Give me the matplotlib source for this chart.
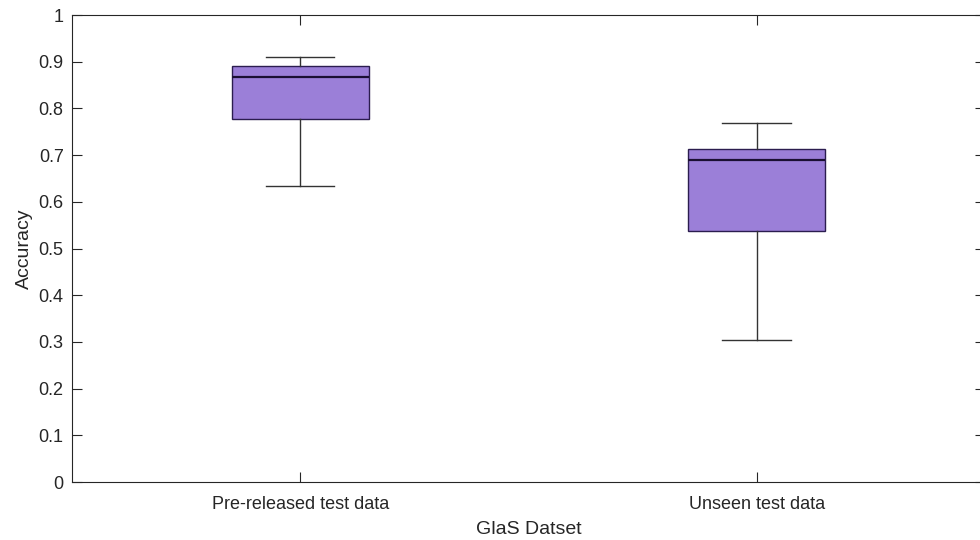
import matplotlib
matplotlib.use("Agg")
import matplotlib.pyplot as plt

plt.rcParams['font.family'] = ['Liberation Sans', 'DejaVu Sans']

# box statistics for each split of the dataset
groups = ['Pre-released test data', 'Unseen test data']
whisker_low = [0.634, 0.304]
q1 = [0.777, 0.537]
median = [0.867, 0.690]
q3 = [0.891, 0.713]
whisker_high = [0.910, 0.769]

stats = []
for i, name in enumerate(groups):
    stats.append({
        'label': name,
        'whislo': whisker_low[i],
        'q1': q1[i],
        'med': median[i],
        'q3': q3[i],
        'whishi': whisker_high[i],
        'fliers': [],
    })

fig = plt.figure(figsize=(9.8, 5.4), dpi=100)
ax = fig.add_axes([0.0735, 0.1074, 0.9315, 0.8646])

axcol = '#262626'
ax.bxp(stats, positions=[1, 2], widths=0.3, patch_artist=True, showfliers=False,
       boxprops=dict(facecolor='#9b7fd8', edgecolor='#2b1d4f', linewidth=1.0),
       medianprops=dict(color='#1a0f33', linewidth=1.6),
       whiskerprops=dict(color='#333333', linewidth=1.0),
       capprops=dict(color='#333333', linewidth=1.0),
       capwidths=0.15)

ax.set_xlim(0.5, 2.5)
ax.set_ylim(0, 1)
ax.set_yticks([0, 0.1, 0.2, 0.3, 0.4, 0.5, 0.6, 0.7, 0.8, 0.9, 1])
ax.set_yticklabels(['0', '0.1', '0.2', '0.3', '0.4', '0.5', '0.6', '0.7', '0.8', '0.9', '1'])
ax.set_xticks([1, 2])
ax.set_xticklabels(groups)

for sp in ax.spines.values():
    sp.set_color(axcol)
    sp.set_linewidth(0.8)

ax.tick_params(direction='in', length=7, width=0.8, color=axcol, labelcolor=axcol,
               labelsize=13, top=True, right=True)
ax.tick_params(axis='x', pad=10)
ax.tick_params(axis='y', pad=6)

ax.set_xlabel('GlaS Datset', fontsize=14, color=axcol, labelpad=6)
ax.set_ylabel('Accuracy', fontsize=14, color=axcol, labelpad=4)

fig.savefig('out.png', dpi=100)
